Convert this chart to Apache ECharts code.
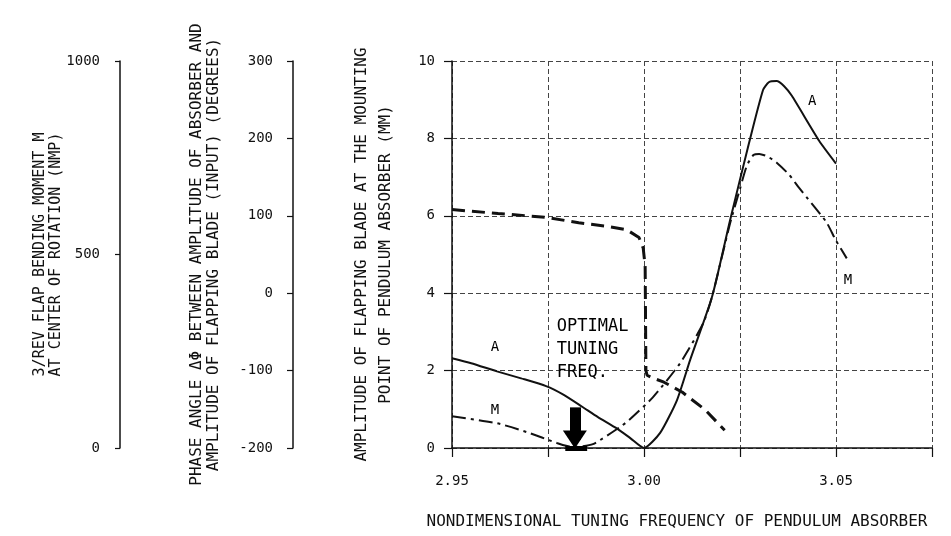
<!DOCTYPE html>
<html><head><meta charset="utf-8">
<script src="https://cdn.jsdelivr.net/npm/echarts@6.0.0/dist/echarts.min.js"></script>
<style>html,body{margin:0;padding:0;background:#fff}#c{width:951px;height:536px}</style>
</head><body><div id="c"></div>
<script>
// ---- data ----
const xTickLabels = ['2.95', '3.00', '3.05'];
// A: amplitude of flapping blade (mm)
const seriesA = [
  [2.95, 2.32], [2.955, 2.19], [2.9617, 1.98], [2.968, 1.80], [2.9745, 1.60],
  [2.979, 1.38], [2.984, 1.06], [2.988, 0.80], [2.993, 0.50], [2.9965, 0.25],
  [3.0, 0.0], [3.0042, 0.39], [3.0086, 1.24], [3.012, 2.27], [3.0177, 3.90],
  [3.0224, 5.88], [3.0273, 7.86], [3.031, 9.25], [3.0325, 9.45], [3.0345, 9.48],
  [3.0365, 9.35], [3.0385, 9.10], [3.0456, 7.94], [3.05, 7.35]
];
// M: 3/rev flap bending moment at center of rotation
const seriesM = [
  [2.95, 82], [2.9617, 64], [2.9695, 41], [2.9773, 13], [2.980, 5], [2.982, 3],
  [2.9867, 10], [2.9937, 54], [2.9961, 72], [3.0023, 131], [3.0094, 219],
  [3.0154, 322], [3.0177, 390], [3.0224, 580], [3.025, 670], [3.0268, 730],
  [3.0285, 757], [3.030, 760], [3.032, 754], [3.0345, 738], [3.0378, 706],
  [3.0404, 672], [3.0474, 585], [3.05, 536], [3.0528, 490]
];
// Phase angle (degrees)
const seriesPhase = [
  [2.95, 108], [2.962, 103], [2.9745, 98], [2.983, 91], [2.991, 86],
  [2.9955, 82], [2.9987, 72], [2.9998, 58], [3.0003, 35], [3.0005, -100],
  [3.0008, -106], [3.002, -109], [3.0052, -115], [3.01, -128], [3.016, -151],
  [3.021, -177]
];
const curveLabels = [
  { name: 'A', value: [2.9612, 2.6] },
  { name: 'M', value: [2.9612, 0.98] },
  { name: 'A', value: [3.0438, 8.97] },
  { name: 'M', value: [3.0531, 4.33] }
];
const optimalText = 'OPTIMAL\nTUNING\nFREQ.';
const optimalPos = [2.9773, 3.43];
const arrowX = 2.982, arrowTop = 1.05, arrowTip = 0.22;
const barFrom = 2.9795, barTo = 2.9852;

// ---- chart ----
const FONT = 'DejaVu Sans Mono';
const INK = '#111';
const chart = echarts.init(document.getElementById('c'));
const gridDash = { color: '#444', width: 1, type: [5, 3] };

chart.setOption({
  animation: false,
  backgroundColor: '#fff',
  grid: { left: 452, top: 61, right: 19, bottom: 88, outerBoundsMode: 'none' },
  xAxis: {
    type: 'value', min: 2.95, max: 3.075, interval: 0.025,
    axisLine: { show: true, lineStyle: { color: INK, width: 1.5 } },
    axisTick: { show: true, length: 9, lineStyle: { color: INK, width: 1.2 } },
    splitLine: { show: true, lineStyle: gridDash },
    axisLabel: {
      margin: 26, fontFamily: FONT, fontSize: 14, color: INK,
      formatter: v => { const l = xTickLabels.find(t => Math.abs(parseFloat(t) - v) < 1e-6); return l || ''; }
    },
    name: 'NONDIMENSIONAL TUNING FREQUENCY OF PENDULUM ABSORBER',
    nameLocation: 'middle', nameGap: 66, nameMoveOverlap: false,
    nameTextStyle: { fontFamily: FONT, fontSize: 16, color: INK, padding: [0, 30, 0, 0] }
  },
  yAxis: [
    {
      type: 'value', min: 0, max: 1000, interval: 500, position: 'left', offset: 332,
      axisLine: { show: true, lineStyle: { color: INK, width: 1.5 } },
      axisTick: { show: true, length: 5, lineStyle: { color: INK, width: 1.2 } },
      splitLine: { show: false },
      axisLabel: { margin: 20, fontFamily: FONT, fontSize: 14, color: INK, formatter: v => String(v) },
      name: '3/REV FLAP BENDING MOMENT M\nAT CENTER OF ROTATION (NMP)',
      nameLocation: 'middle', nameGap: 56, nameRotate: 90, nameMoveOverlap: false,
      nameTextStyle: { fontFamily: FONT, fontSize: 15, color: INK, lineHeight: 16 }
    },
    {
      type: 'value', min: -200, max: 300, interval: 100, position: 'left', offset: 159,
      axisLine: { show: true, lineStyle: { color: INK, width: 1.5 } },
      axisTick: { show: true, length: 6, lineStyle: { color: INK, width: 1.2 } },
      splitLine: { show: false },
      axisLabel: { margin: 20, fontFamily: FONT, fontSize: 14, color: INK, formatter: v => String(v) },
      name: 'PHASE ANGLE ΔΦ BETWEEN AMPLITUDE OF ABSORBER AND\nAMPLITUDE OF FLAPPING BLADE (INPUT) (DEGREES)',
      nameLocation: 'middle', nameGap: 71, nameRotate: 90, nameMoveOverlap: false,
      nameTextStyle: { fontFamily: FONT, fontSize: 16, color: INK, lineHeight: 17 }
    },
    {
      type: 'value', min: 0, max: 10, interval: 2, position: 'left', offset: 0,
      axisLine: { show: true, lineStyle: { color: INK, width: 1.5 } },
      axisTick: { show: true, length: 8, lineStyle: { color: INK, width: 1.2 } },
      splitLine: { show: true, lineStyle: gridDash },
      axisLabel: { margin: 17, fontFamily: FONT, fontSize: 14, color: INK },
      name: 'AMPLITUDE OF FLAPPING BLADE AT THE MOUNTING\nPOINT OF PENDULUM ABSORBER (MM)',
      nameLocation: 'middle', nameGap: 54, nameRotate: 90, nameMoveOverlap: false,
      nameTextStyle: { fontFamily: FONT, fontSize: 16, color: INK, lineHeight: 24 }
    }
  ],
  series: [
    {
      name: 'Phase', type: 'line', yAxisIndex: 1, data: seriesPhase,
      showSymbol: false, symbol: 'none', silent: true,
      lineStyle: { color: INK, width: 3, type: [13, 7] }
    },
    {
      name: 'M', type: 'line', yAxisIndex: 0, data: seriesM,
      showSymbol: false, symbol: 'none', silent: true, smooth: 0.2,
      lineStyle: { color: INK, width: 2, type: [14, 5, 3, 5] }
    },
    {
      name: 'A', type: 'line', yAxisIndex: 2, data: seriesA,
      showSymbol: false, symbol: 'none', silent: true, smooth: 0.2,
      lineStyle: { color: INK, width: 2 },
      markLine: {
        silent: true, animation: false,
        label: { show: false },
        data: [
          [{ coord: [arrowX, arrowTop], symbol: 'none', lineStyle: { width: 11, color: '#000', type: 'solid' } },
           { coord: [arrowX, arrowTip], symbol: 'triangle', symbolSize: [24, 18] }],
          [{ coord: [barFrom, 0], symbol: 'none', lineStyle: { width: 5, color: '#000', type: 'solid' } },
           { coord: [barTo, 0], symbol: 'none' }]
        ]
      }
    },
    {
      name: 'labels', type: 'scatter', yAxisIndex: 2, symbolSize: 0, silent: true,
      itemStyle: { opacity: 1 },
      data: curveLabels.concat([{ name: optimalText, value: optimalPos,
        label: { align: 'left', verticalAlign: 'top', position: [0, 0], fontSize: 17, lineHeight: 23 } }]),
      label: {
        show: true, position: 'inside', formatter: p => p.name, opacity: 1,
        fontFamily: FONT, fontSize: 14, color: '#000', textBorderWidth: 0
      }
    }
  ]
});
</script>
</body></html>
